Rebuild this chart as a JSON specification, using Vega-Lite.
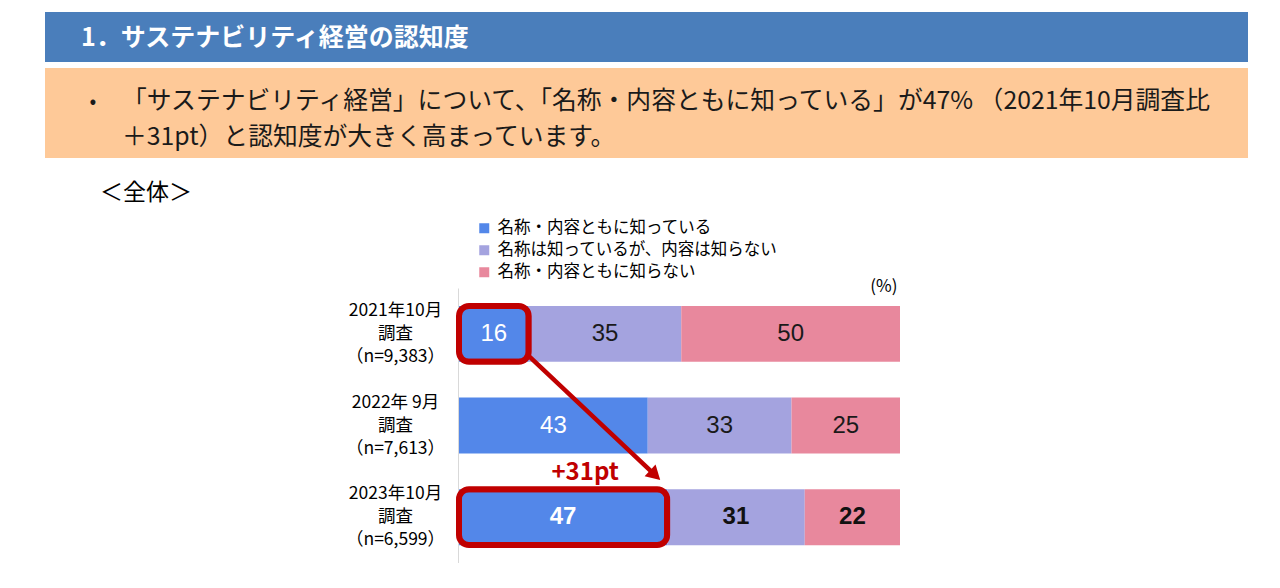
{
  "$schema": "https://vega.github.io/schema/vega-lite/v6.json",
  "padding": {"top": 12, "left": 45, "right": 32, "bottom": 0},
  "background": "white",
  "spacing": 6,
  "resolve": {"scale": {"color": "independent", "x": "independent", "y": "independent"}, "legend": {"color": "independent"}},
  "config": {"view": {"stroke": null}, "font": "Noto Sans CJK JP"},
  "datasets": {
    "bars": [
      {"survey": "2021年10月\n調査\n（n=9,383）", "answer": "名称・内容ともに知っている", "order": 1, "share": 15.8},
      {"survey": "2021年10月\n調査\n（n=9,383）", "answer": "名称は知っているが、内容は知らない", "order": 2, "share": 34.6},
      {"survey": "2021年10月\n調査\n（n=9,383）", "answer": "名称・内容ともに知らない", "order": 3, "share": 49.6},
      {"survey": "2022年 9月\n調査\n（n=7,613）", "answer": "名称・内容ともに知っている", "order": 1, "share": 42.8},
      {"survey": "2022年 9月\n調査\n（n=7,613）", "answer": "名称は知っているが、内容は知らない", "order": 2, "share": 32.6},
      {"survey": "2022年 9月\n調査\n（n=7,613）", "answer": "名称・内容ともに知らない", "order": 3, "share": 24.6},
      {"survey": "2023年10月\n調査\n（n=6,599）", "answer": "名称・内容ともに知っている", "order": 1, "share": 47.2},
      {"survey": "2023年10月\n調査\n（n=6,599）", "answer": "名称は知っているが、内容は知らない", "order": 2, "share": 31.2},
      {"survey": "2023年10月\n調査\n（n=6,599）", "answer": "名称・内容ともに知らない", "order": 3, "share": 21.6}
    ],
    "notes": [
      {"from": "2021年10月\n調査\n（n=9,383）", "to": "2023年10月\n調査\n（n=6,599）", "start": 15.8, "end": 47.2, "label": "+31pt"}
    ]
  },
  "vconcat": [
    {
      "width": 1203,
      "height": 50,
      "view": {"fill": "#4a7ebb", "stroke": null},
      "data": {"values": [{"heading": "1．サステナビリティ経営の認知度"}]},
      "mark": {"type": "text", "x": 36, "y": 26, "align": "left", "baseline": "middle", "fontSize": 25, "fontWeight": "bold", "color": "white", "font": "Noto Sans CJK JP"},
      "encoding": {"text": {"field": "heading", "type": "nominal"}}
    },
    {
      "width": 1203,
      "height": 90,
      "view": {"fill": "#fec998", "stroke": null},
      "data": {"values": [
        {"line": 1, "text": "「サステナビリティ経営」について、「名称・内容ともに知っている」が47% （2021年10月調査比"},
        {"line": 2, "text": "＋31pt）と認知度が大きく高まっています。"}
      ]},
      "encoding": {"y": {"field": "line", "type": "ordinal", "axis": null, "scale": {"type": "point", "range": [34, 70], "padding": 0}}},
      "layer": [
        {"mark": {"type": "text", "x": 77, "align": "left", "baseline": "middle", "fontSize": 24.8, "color": "#1a1a1a", "font": "Noto Sans CJK JP"},
         "encoding": {"text": {"field": "text", "type": "nominal"}}},
        {"transform": [{"filter": "datum.line === 1"}],
         "mark": {"type": "text", "x": 48, "align": "center", "baseline": "middle", "fontSize": 20, "color": "#1a1a1a"},
         "encoding": {"text": {"value": "•"}}}
      ]
    },
    {
      "width": 1203,
      "height": 275,
      "title": {"text": ["", "＜全体＞"], "anchor": "start", "frame": "bounds", "dx": 55, "fontSize": 23, "fontWeight": "normal", "font": "Noto Sans CJK JP", "color": "#000000", "lineHeight": 18, "offset": 15},
      "data": {"name": "bars"},
      "encoding": {
        "y": {
          "field": "survey", "type": "nominal",
          "scale": {"domain": ["2021年10月\n調査\n（n=9,383）", "2022年 9月\n調査\n（n=7,613）", "2023年10月\n調査\n（n=6,599）"], "paddingInner": 0.39, "paddingOuter": 0.195},
          "axis": {"title": null, "orient": "left", "offset": -413, "domainColor": "#d9d9d9", "domainWidth": 1, "ticks": false, "tickSize": 0, "labelPadding": 63, "labelOffset": -23, "labelAlign": "center", "labelBaseline": "middle", "labelFontSize": 17.5, "labelLineHeight": 23, "labelColor": "#000000", "labelFont": "Noto Sans CJK JP", "labelExpr": "split(datum.label, '\\n')", "grid": false, "labelLimit": 300}
        }
      },
      "layer": [
        {
          "mark": {"type": "bar"},
          "encoding": {
            "x": {"field": "share", "type": "quantitative", "stack": "zero",
                  "scale": {"domain": [-93.878, 178.912], "nice": false, "zero": false},
                  "axis": {"orient": "top", "labels": false, "ticks": false, "domain": false, "grid": false, "title": "(%)", "titleX": 852, "titleY": -2, "titleAlign": "right", "titleBaseline": "middle", "titleFontSize": 17, "titleFontWeight": "normal", "titleColor": "#000000", "titleFont": "Noto Sans CJK JP"}},
            "color": {"field": "answer", "type": "nominal",
                      "scale": {"domain": ["名称・内容ともに知っている", "名称は知っているが、内容は知らない", "名称・内容ともに知らない"], "range": ["#5387e9", "#a4a3df", "#e8889d"]},
                      "legend": {"title": null, "orient": "none", "legendX": 431, "legendY": -68, "direction": "vertical", "symbolType": "square", "symbolSize": 100, "symbolStrokeWidth": 0, "symbolOpacity": 1, "labelFontSize": 16.5, "labelFont": "Noto Sans CJK JP", "labelColor": "#000000", "rowPadding": 5, "labelOffset": 5, "labelLimit": 400, "padding": 0}},
            "order": {"field": "order", "type": "quantitative"}
          }
        },
        {
          "transform": [{"filter": {"field": "survey", "oneOf": ["2021年10月\n調査\n（n=9,383）", "2022年 9月\n調査\n（n=7,613）"]}}],
          "mark": {"type": "text", "fontSize": 24, "font": "Liberation Sans Narrow, Liberation Sans, sans-serif", "baseline": "middle", "align": "center"},
          "encoding": {
            "x": {"field": "share", "type": "quantitative", "stack": "zero", "bandPosition": 0.5},
            "detail": {"field": "answer"},
            "order": {"field": "order", "type": "quantitative"},
            "text": {"field": "share", "type": "quantitative", "format": ".0f"},
            "color": {"condition": {"test": "datum.answer === '名称・内容ともに知っている'", "value": "#ffffff"}, "value": "#1a1a1a"}
          }
        },
        {
          "transform": [{"filter": {"field": "survey", "equal": "2023年10月\n調査\n（n=6,599）"}}],
          "mark": {"type": "text", "fontSize": 24, "fontWeight": "bold", "font": "Liberation Sans Narrow, Liberation Sans, sans-serif", "baseline": "middle", "align": "center"},
          "encoding": {
            "x": {"field": "share", "type": "quantitative", "stack": "zero", "bandPosition": 0.5},
            "detail": {"field": "answer"},
            "order": {"field": "order", "type": "quantitative"},
            "text": {"field": "share", "type": "quantitative", "format": ".0f"},
            "color": {"condition": {"test": "datum.answer === '名称・内容ともに知っている'", "value": "#ffffff"}, "value": "#111111"}
          }
        },
        {
          "transform": [{"filter": {"and": [{"field": "answer", "equal": "名称・内容ともに知っている"}, {"field": "survey", "oneOf": ["2021年10月\n調査\n（n=9,383）", "2023年10月\n調査\n（n=6,599）"]}]}}],
          "mark": {"type": "bar", "fillOpacity": 0, "stroke": "#c00000", "strokeWidth": 6, "cornerRadius": 10},
          "encoding": {"x": {"field": "share", "type": "quantitative"}}
        },
        {
          "data": {"name": "notes"},
          "mark": {"type": "rule", "color": "#c00000", "strokeWidth": 4.5, "yOffset": 22, "x2Offset": -12, "y2Offset": -42},
          "encoding": {
            "x": {"field": "start", "type": "quantitative"},
            "x2": {"field": "end"},
            "y": {"field": "from", "type": "nominal"},
            "y2": {"field": "to"}
          }
        },
        {
          "data": {"name": "notes"},
          "mark": {"type": "point", "shape": "triangle-up", "filled": true, "size": 256, "angle": 133, "color": "#c00000", "opacity": 1, "xOffset": -12, "yOffset": -42},
          "encoding": {
            "x": {"field": "end", "type": "quantitative"},
            "y": {"field": "to", "type": "nominal"}
          }
        },
        {
          "data": {"name": "notes"},
          "mark": {"type": "text", "fontSize": 24, "fontWeight": "bold", "color": "#c00000", "xOffset": -82, "yOffset": -44, "align": "center", "baseline": "middle", "font": "Noto Sans CJK JP"},
          "encoding": {
            "x": {"field": "end", "type": "quantitative"},
            "y": {"field": "to", "type": "nominal"},
            "text": {"field": "label", "type": "nominal"}
          }
        }
      ]
    }
  ]
}
